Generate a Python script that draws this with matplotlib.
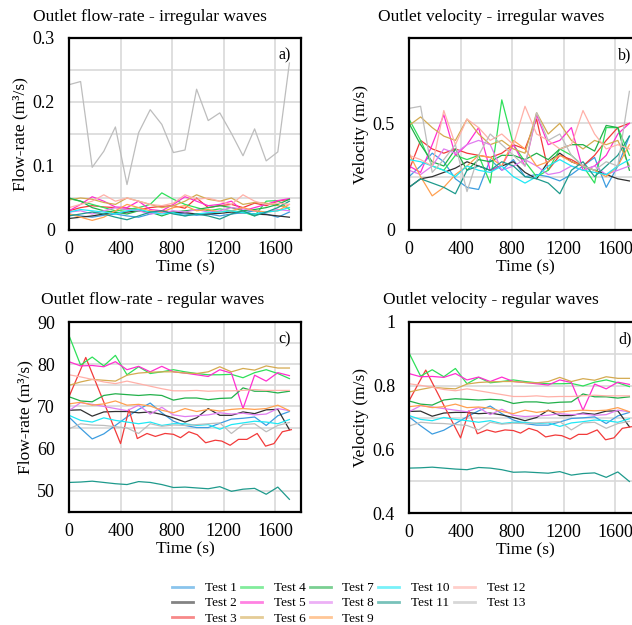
import matplotlib.pyplot as plt
from matplotlib.lines import Line2D

# sampling times (s); test 3 was logged on its own clock in the regular runs
times = list(range(0, 1800, 90))
times_test3 = [0, 130, 400, 465, 530, 605, 670, 745, 810, 865, 930, 995,
               1060, 1135, 1185, 1250, 1315, 1380, 1460, 1525, 1590, 1655, 1725]

tests = ["Test %d" % i for i in range(1, 14)]
colors = ["#3d9de0", "#303030", "#f23a3a", "#2fe05a", "#ff2fd0", "#d4aa50",
          "#22b04a", "#e07cf0", "#ffa050", "#1fe8f5", "#1e9a8c", "#ffb0a8",
          "#bdbdbd"]

# outlet flow-rate, irregular waves (m3/s)
q_irr = [
    [0.025, 0.022, 0.020, 0.023, 0.025, 0.022, 0.020, 0.025, 0.030, 0.027, 0.025, 0.023, 0.025, 0.022, 0.025, 0.027, 0.030, 0.025, 0.020, 0.028],
    [0.018, 0.020, 0.022, 0.025, 0.027, 0.028, 0.030, 0.028, 0.030, 0.028, 0.027, 0.025, 0.025, 0.026, 0.028, 0.027, 0.025, 0.024, 0.022, 0.020],
    [0.030, 0.035, 0.038, 0.036, 0.035, 0.034, 0.032, 0.035, 0.037, 0.038, 0.034, 0.050, 0.035, 0.038, 0.040, 0.035, 0.042, 0.038, 0.045, 0.048],
    [0.049, 0.045, 0.040, 0.035, 0.030, 0.032, 0.035, 0.040, 0.058, 0.048, 0.040, 0.035, 0.030, 0.033, 0.030, 0.028, 0.022, 0.045, 0.046, 0.032],
    [0.030, 0.040, 0.052, 0.045, 0.036, 0.035, 0.045, 0.032, 0.030, 0.040, 0.052, 0.045, 0.038, 0.040, 0.045, 0.030, 0.035, 0.040, 0.046, 0.049],
    [0.047, 0.050, 0.048, 0.043, 0.040, 0.050, 0.045, 0.040, 0.035, 0.038, 0.045, 0.055, 0.048, 0.045, 0.050, 0.040, 0.043, 0.042, 0.038, 0.035],
    [0.050, 0.045, 0.035, 0.030, 0.028, 0.025, 0.030, 0.028, 0.022, 0.028, 0.030, 0.032, 0.035, 0.038, 0.035, 0.030, 0.032, 0.035, 0.040, 0.048],
    [0.028, 0.030, 0.025, 0.030, 0.035, 0.032, 0.030, 0.025, 0.027, 0.030, 0.028, 0.032, 0.028, 0.030, 0.035, 0.033, 0.030, 0.028, 0.032, 0.030],
    [0.025, 0.020, 0.015, 0.020, 0.030, 0.040, 0.035, 0.030, 0.028, 0.035, 0.038, 0.030, 0.032, 0.028, 0.030, 0.035, 0.030, 0.028, 0.030, 0.040],
    [0.028, 0.032, 0.030, 0.028, 0.025, 0.030, 0.032, 0.028, 0.025, 0.027, 0.022, 0.025, 0.027, 0.028, 0.030, 0.027, 0.025, 0.028, 0.030, 0.035],
    [0.022, 0.025, 0.028, 0.025, 0.020, 0.016, 0.022, 0.028, 0.030, 0.025, 0.022, 0.025, 0.022, 0.017, 0.025, 0.030, 0.022, 0.028, 0.035, 0.045],
    [0.035, 0.040, 0.045, 0.055, 0.045, 0.050, 0.045, 0.040, 0.038, 0.042, 0.055, 0.048, 0.050, 0.045, 0.040, 0.055, 0.045, 0.040, 0.042, 0.040],
    [0.227, 0.232, 0.098, 0.123, 0.161, 0.071, 0.152, 0.188, 0.165, 0.121, 0.125, 0.220, 0.171, 0.183, 0.151, 0.116, 0.158, 0.108, 0.122, 0.261],
]

# outlet velocity, irregular waves (m/s)
v_irr = [
    [0.25, 0.30, 0.36, 0.32, 0.24, 0.20, 0.19, 0.33, 0.28, 0.33, 0.25, 0.26, 0.25, 0.23, 0.26, 0.30, 0.34, 0.20, 0.30, 0.44],
    [0.20, 0.24, 0.25, 0.27, 0.29, 0.32, 0.30, 0.28, 0.30, 0.32, 0.27, 0.24, 0.32, 0.36, 0.32, 0.30, 0.28, 0.26, 0.24, 0.23],
    [0.28, 0.42, 0.38, 0.36, 0.38, 0.36, 0.35, 0.34, 0.36, 0.40, 0.38, 0.52, 0.28, 0.35, 0.33, 0.30, 0.35, 0.42, 0.48, 0.50],
    [0.52, 0.42, 0.30, 0.28, 0.35, 0.33, 0.35, 0.22, 0.61, 0.40, 0.32, 0.25, 0.28, 0.38, 0.35, 0.30, 0.22, 0.48, 0.48, 0.35],
    [0.30, 0.27, 0.40, 0.54, 0.35, 0.40, 0.48, 0.28, 0.30, 0.40, 0.30, 0.54, 0.40, 0.42, 0.48, 0.28, 0.30, 0.35, 0.45, 0.50],
    [0.49, 0.53, 0.48, 0.44, 0.42, 0.52, 0.45, 0.40, 0.42, 0.38, 0.36, 0.55, 0.45, 0.50, 0.42, 0.38, 0.42, 0.40, 0.42, 0.30],
    [0.50, 0.40, 0.32, 0.30, 0.38, 0.28, 0.33, 0.32, 0.35, 0.35, 0.33, 0.36, 0.33, 0.38, 0.40, 0.40, 0.37, 0.49, 0.48, 0.28],
    [0.28, 0.26, 0.30, 0.38, 0.36, 0.40, 0.42, 0.40, 0.28, 0.30, 0.33, 0.30, 0.26, 0.27, 0.30, 0.28, 0.30, 0.26, 0.28, 0.30],
    [0.36, 0.25, 0.16, 0.20, 0.26, 0.30, 0.35, 0.34, 0.30, 0.42, 0.38, 0.30, 0.32, 0.35, 0.32, 0.30, 0.28, 0.25, 0.30, 0.40],
    [0.33, 0.32, 0.30, 0.28, 0.25, 0.30, 0.28, 0.27, 0.30, 0.25, 0.22, 0.25, 0.30, 0.33, 0.30, 0.28, 0.27, 0.26, 0.30, 0.33],
    [0.20, 0.24, 0.22, 0.20, 0.17, 0.28, 0.30, 0.28, 0.32, 0.30, 0.25, 0.24, 0.22, 0.17, 0.28, 0.32, 0.25, 0.30, 0.35, 0.44],
    [0.35, 0.33, 0.30, 0.56, 0.40, 0.52, 0.48, 0.42, 0.45, 0.40, 0.58, 0.45, 0.42, 0.38, 0.40, 0.56, 0.45, 0.38, 0.40, 0.38],
    [0.57, 0.58, 0.27, 0.33, 0.40, 0.18, 0.35, 0.45, 0.40, 0.35, 0.30, 0.55, 0.42, 0.45, 0.35, 0.30, 0.28, 0.32, 0.30, 0.65],
]

# outlet flow-rate, regular waves (m3/s)
q_reg = [
    [67.5, 64.8, 62.3, 63.5, 65.5, 67.5, 69.3, 70.8, 68.5, 66.5, 65.5, 65.0, 65.0, 66.0, 67.0, 67.2, 67.5, 65.5, 67.8, 68.8],
    [69.1, 69.2, 67.7, 68.7, 68.8, 68.8, 68.5, 68.7, 68.1, 67.3, 66.3, 67.3, 69.5, 67.9, 67.9, 68.7, 68.3, 69.2, 69.3, 64.5],
    [72.3, 81.6, 61.2, 69.3, 62.4, 63.6, 62.9, 63.6, 63.4, 62.6, 64.0, 63.3, 61.4, 62.0, 61.8, 60.8, 62.2, 62.2, 63.6, 60.6, 61.2, 64.0, 64.5],
    [86.8, 79.8, 81.7, 79.6, 82.1, 77.5, 79.4, 77.8, 78.2, 78.7, 78.2, 77.8, 77.5, 77.5, 77.6, 76.8, 78.0, 78.7, 77.8, 76.6],
    [80.6, 79.6, 79.7, 79.4, 80.6, 78.7, 79.5, 78.2, 79.5, 78.2, 77.9, 77.5, 77.1, 78.7, 77.9, 69.5, 77.4, 76.0, 78.0, 77.3],
    [75.0, 75.8, 76.4, 76.2, 76.0, 77.4, 77.9, 78.1, 78.2, 78.2, 77.9, 77.8, 78.2, 79.4, 78.2, 79.0, 78.6, 79.6, 79.1, 79.1],
    [72.3, 71.3, 71.1, 72.6, 73.0, 72.8, 72.6, 72.8, 72.6, 71.5, 72.0, 72.0, 71.6, 71.9, 72.0, 74.4, 73.6, 73.6, 73.2, 73.6],
    [69.0, 70.9, 70.5, 70.0, 69.5, 69.0, 70.3, 68.2, 69.8, 68.0, 67.6, 67.8, 68.0, 68.5, 68.2, 68.4, 68.0, 68.2, 69.5, 69.0],
    [70.6, 71.0, 70.3, 70.6, 71.3, 70.3, 70.5, 70.1, 69.1, 68.5, 69.5, 68.8, 69.3, 68.9, 69.3, 69.5, 69.3, 69.5, 70.3, 69.0],
    [67.9, 66.7, 66.3, 67.3, 66.7, 66.3, 65.9, 66.3, 65.5, 65.9, 65.9, 65.5, 65.7, 64.6, 65.7, 66.1, 66.5, 66.3, 65.9, 66.9],
    [52.0, 52.1, 52.3, 52.0, 51.7, 51.5, 52.2, 52.0, 51.5, 50.8, 50.9, 50.7, 50.5, 51.0, 49.9, 50.4, 50.6, 49.2, 50.9, 48.0],
    [77.5, 77.0, 76.4, 75.8, 75.4, 76.0, 75.4, 74.8, 74.2, 73.7, 73.7, 73.8, 73.6, 73.7, 73.7, 73.8, 74.0, 73.8, 73.8, 73.8],
    [64.7, 65.9, 65.6, 65.5, 65.2, 64.9, 63.6, 65.9, 65.3, 65.6, 65.5, 65.7, 65.9, 66.1, 63.6, 65.7, 65.9, 64.0, 65.5, 66.2],
]

# outlet velocity, regular waves (m/s)
v_reg = [
    [0.702, 0.674, 0.648, 0.660, 0.681, 0.702, 0.721, 0.736, 0.712, 0.692, 0.681, 0.676, 0.676, 0.686, 0.697, 0.699, 0.702, 0.681, 0.705, 0.716],
    [0.719, 0.720, 0.704, 0.714, 0.716, 0.716, 0.712, 0.714, 0.708, 0.700, 0.690, 0.700, 0.723, 0.706, 0.706, 0.714, 0.710, 0.720, 0.721, 0.671],
    [0.752, 0.849, 0.636, 0.721, 0.649, 0.661, 0.654, 0.661, 0.659, 0.651, 0.666, 0.658, 0.639, 0.645, 0.643, 0.632, 0.647, 0.647, 0.661, 0.630, 0.636, 0.666, 0.671],
    [0.903, 0.830, 0.850, 0.828, 0.854, 0.806, 0.826, 0.809, 0.813, 0.818, 0.813, 0.809, 0.806, 0.806, 0.807, 0.799, 0.811, 0.818, 0.809, 0.797],
    [0.838, 0.828, 0.829, 0.826, 0.838, 0.818, 0.827, 0.813, 0.827, 0.813, 0.810, 0.806, 0.802, 0.818, 0.810, 0.723, 0.805, 0.790, 0.811, 0.804],
    [0.780, 0.788, 0.795, 0.792, 0.790, 0.805, 0.810, 0.812, 0.813, 0.813, 0.810, 0.809, 0.813, 0.826, 0.813, 0.822, 0.817, 0.828, 0.823, 0.823],
    [0.752, 0.742, 0.739, 0.755, 0.759, 0.757, 0.755, 0.757, 0.755, 0.744, 0.749, 0.749, 0.745, 0.748, 0.749, 0.774, 0.765, 0.765, 0.761, 0.765],
    [0.718, 0.737, 0.733, 0.728, 0.723, 0.718, 0.731, 0.709, 0.726, 0.707, 0.703, 0.705, 0.707, 0.712, 0.709, 0.711, 0.707, 0.709, 0.723, 0.718],
    [0.734, 0.738, 0.731, 0.734, 0.742, 0.731, 0.733, 0.729, 0.719, 0.712, 0.723, 0.716, 0.721, 0.717, 0.721, 0.723, 0.721, 0.723, 0.731, 0.718],
    [0.706, 0.694, 0.690, 0.700, 0.694, 0.690, 0.685, 0.690, 0.681, 0.685, 0.685, 0.681, 0.683, 0.672, 0.683, 0.687, 0.692, 0.690, 0.685, 0.696],
    [0.541, 0.542, 0.544, 0.541, 0.538, 0.536, 0.543, 0.541, 0.536, 0.528, 0.529, 0.527, 0.525, 0.530, 0.519, 0.524, 0.526, 0.512, 0.529, 0.499],
    [0.806, 0.801, 0.795, 0.788, 0.784, 0.790, 0.784, 0.778, 0.772, 0.766, 0.766, 0.768, 0.765, 0.766, 0.766, 0.768, 0.770, 0.768, 0.768, 0.768],
    [0.673, 0.685, 0.682, 0.681, 0.678, 0.675, 0.661, 0.685, 0.679, 0.682, 0.681, 0.683, 0.685, 0.687, 0.661, 0.683, 0.685, 0.666, 0.681, 0.688],
]

xticks = [0, 400, 800, 1200, 1600]

plt.rcParams["font.family"] = ["Liberation Serif", "DejaVu Serif"]

W, H = 632, 625
fig = plt.figure(figsize=(W / 100, H / 100), dpi=100)


def px_axes(left, top, width, height):
    return fig.add_axes([left / W, 1 - (top + height) / H, width / W, height / H])


def style_axes(ax, ylim, yticks, ylabels, ylabel, tag):
    ax.set_xlim(0, 1800)
    ax.set_ylim(*ylim)
    ax.set_xticks(xticks)
    ax.set_xticklabels([str(t) for t in xticks])
    ax.set_yticks(yticks)
    ax.set_yticklabels(ylabels)
    ax.tick_params(length=0, labelsize=13, pad=10)
    ax.tick_params(axis="x", pad=8)
    ax.grid(True, color="#d9d9d9", lw=1.2)
    ax.set_axisbelow(True)
    for s in ax.spines.values():
        s.set_color("black")
        s.set_linewidth(1.6)
    ax.set_xlabel("Time (s)", fontsize=12.5, labelpad=1)
    ax.set_ylabel(ylabel, fontsize=12.5, labelpad=3)
    ax.text(0.93, 0.91, tag, transform=ax.transAxes, fontsize=11.5,
            ha="center", va="center")


def draw(ax, series, irregular):
    for i, (vals, c) in enumerate(zip(series, colors)):
        t = times_test3 if (i == 2 and not irregular) else times
        ax.plot(t, vals, color=c, lw=0.9)


ax_a = px_axes(69, 38, 232, 192)
draw(ax_a, q_irr, True)
style_axes(ax_a, (0, 0.3), [0, 0.05, 0.1, 0.15, 0.2, 0.25, 0.3],
           ["0", "", "0.1", "", "0.2", "", "0.3"], "Flow-rate (m³/s)", "a)")

ax_b = px_axes(409, 38, 232, 192)
draw(ax_b, v_irr, True)
style_axes(ax_b, (0, 0.9), [0, 0.25, 0.5, 0.75],
           ["0", "", "0.5", ""], "Velocity (m/s)", "b)")

ax_c = px_axes(69, 322, 232, 190)
draw(ax_c, q_reg, False)
style_axes(ax_c, (45, 90), list(range(45, 95, 5)),
           ["", "50", "", "60", "", "70", "", "80", "", "90"],
           "Flow-rate (m³/s)", "c)")

ax_d = px_axes(409, 322, 232, 191)
draw(ax_d, v_reg, False)
style_axes(ax_d, (0.4, 1.0), [0.4, 0.5, 0.6, 0.7, 0.8, 0.9, 1.0],
           ["0.4", "", "0.6", "", "0.8", "", "1"], "Velocity (m/s)", "d)")

titles = [("Outlet flow-rate - irregular waves", 33, 17),
          ("Outlet velocity - irregular waves", 378, 17),
          ("Outlet flow-rate - regular waves", 41, 300),
          ("Outlet velocity - regular waves", 383, 300)]
for txt, x, y in titles:
    fig.text(x / W, 1 - y / H, txt, fontsize=12.5, ha="left", va="center")

handles = [Line2D([], [], color=c, lw=2, alpha=0.6) for c in colors]
fig.legend(handles, tests, ncol=5, loc="upper left",
           bbox_to_anchor=(172 / W, 1 - 582 / H), frameon=False,
           fontsize=9.5, handlelength=1.6, handletextpad=0.9,
           columnspacing=0.3, labelspacing=0.22, borderpad=0,
           borderaxespad=0)

fig.savefig("out.png", dpi=100)
